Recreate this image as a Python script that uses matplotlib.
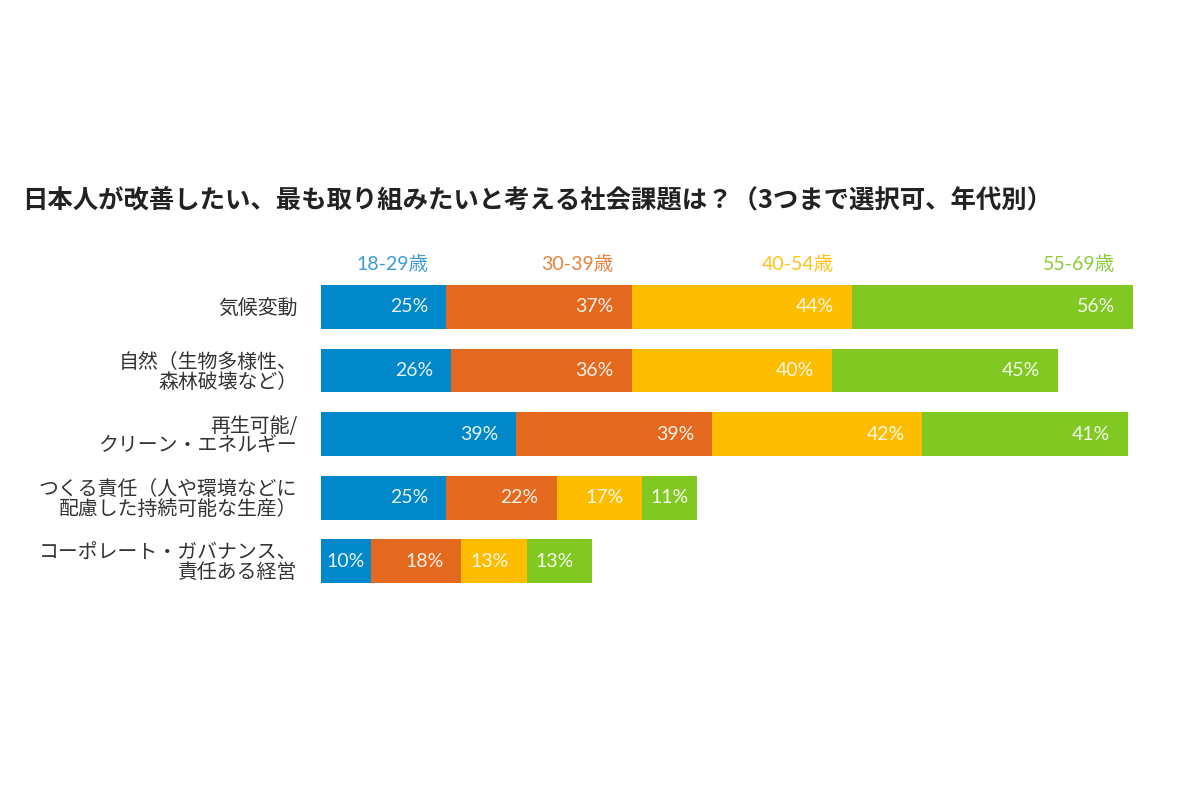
import matplotlib
matplotlib.use("Agg")
import matplotlib.pyplot as plt
import numpy as np

plt.rcParams['font.family'] = ['Noto Sans CJK JP', 'DejaVu Sans']

# data
categories = [
    "気候変動",
    "自然（生物多様性、\n森林破壊など）",
    "再生可能/\nクリーン・エネルギー",
    "つくる責任（人や環境などに\n配慮した持続可能な生産）",
    "コーポレート・ガバナンス、\n責任ある経営",
]
age_groups = ["18-29歳", "30-39歳", "40-54歳", "55-69歳"]
v_18_29 = [25, 26, 39, 25, 10]
v_30_39 = [37, 36, 39, 22, 18]
v_40_54 = [44, 40, 42, 17, 13]
v_55_69 = [56, 45, 41, 11, 13]
title = "日本人が改善したい、最も取り組みたいと考える社会課題は？（3つまで選択可、年代別）"

series = [v_18_29, v_30_39, v_40_54, v_55_69]
bar_colors = ["#0088CA", "#E4681D", "#FFBD00", "#82C822"]
legend_colors = ["#3D9BD6", "#E9803F", "#FFC21A", "#8DCB3B"]
num_family = ['Lato', 'Noto Sans CJK JP']

fig = plt.figure(figsize=(12, 8), dpi=100)
ax = fig.add_axes([321 / 1200, 0.25, 812 / 1200, 0.4125])

y = np.arange(len(categories))
left = np.zeros(len(categories))
for vals, col in zip(series, bar_colors):
    vals = np.array(vals, dtype=float)
    ax.barh(y, vals, left=left, height=0.69, color=col, edgecolor='none')
    for yi, (l, v) in enumerate(zip(left, vals)):
        if v >= 13:
            ax.text(l + v - 3.6, yi, f"{int(v)}%", ha='right', va='center',
                    color='white', alpha=0.9, fontsize=14, family=num_family)
        else:
            ax.text(l + v / 2, yi, f"{int(v)}%", ha='center', va='center',
                    color='white', alpha=0.9, fontsize=14, family=num_family)
    left = left + vals

# legend labels above the first bar
cum = np.cumsum([s[0] for s in series])
for name, end, col in zip(age_groups, cum, legend_colors):
    ax.text(end - 3.6, -0.68, name, ha='right', va='center', color=col,
            fontsize=14, family=num_family, clip_on=False)

ax.set_xlim(0, 162)
ax.set_ylim(4.61, -0.58)
ax.set_yticks(y)
ax.set_yticklabels(categories, fontsize=14.3, color='#333333', linespacing=0.92)
ax.tick_params(axis='y', length=0, pad=17)
ax.set_xticks([])
for s in ax.spines.values():
    s.set_visible(False)

fig.text(22 / 1200, 1 - 201 / 800, title, ha='left', va='center',
         fontsize=18.3, fontweight='bold', color='#222222')

fig.savefig("out.png", dpi=100, facecolor='white')
